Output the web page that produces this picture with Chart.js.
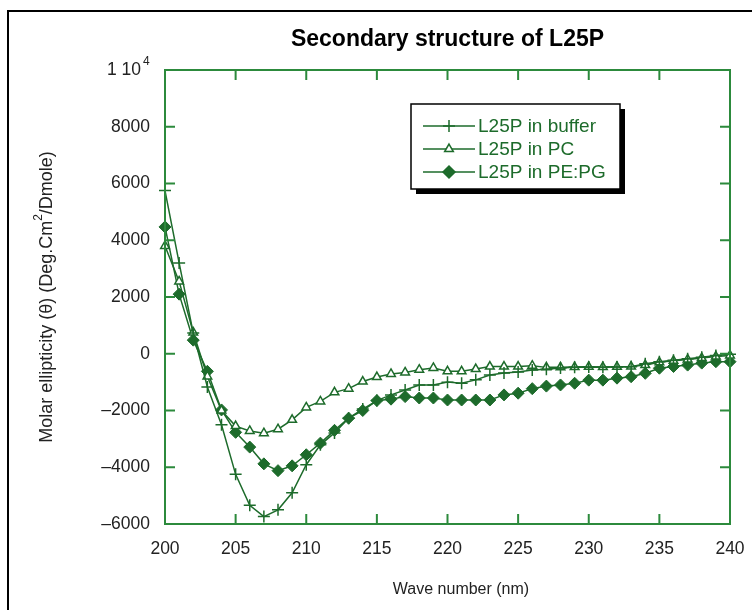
<!DOCTYPE html>
<html>
<head>
<meta charset="utf-8">
<script src="https://cdn.jsdelivr.net/npm/chart.js@4.4.1/dist/chart.umd.min.js"></script>
<style>
html,body{margin:0;padding:0;background:#fff;}
canvas{display:block;}
</style>
</head>
<body>
<canvas id="c" width="752" height="610"></canvas>
<script>
// ---- data ----
const wavelengths = [200,201,202,203,204,205,206,207,208,209,210,211,212,213,214,215,216,217,218,219,220,221,222,223,224,225,226,227,228,229,230,231,232,233,234,235,236,237,238,239,240];
const bufferVals = [5750,3200,730,-1170,-2500,-4250,-5340,-5740,-5500,-4900,-3910,-3210,-2790,-2270,-1950,-1650,-1450,-1280,-1100,-1100,-1000,-1040,-920,-750,-680,-640,-570,-550,-500,-480,-470,-480,-470,-460,-350,-280,-230,-180,-120,-60,-20];
const pcVals = [3800,2550,750,-800,-2000,-2550,-2720,-2800,-2660,-2330,-1890,-1680,-1360,-1230,-980,-820,-710,-660,-560,-500,-620,-620,-540,-450,-450,-450,-420,-480,-480,-470,-460,-470,-460,-450,-400,-300,-250,-200,-150,-100,-60];
const pepgVals = [4470,2100,480,-620,-1980,-2770,-3290,-3880,-4120,-3950,-3560,-3150,-2700,-2270,-2000,-1650,-1600,-1510,-1560,-1560,-1630,-1630,-1630,-1630,-1450,-1390,-1230,-1140,-1100,-1040,-930,-930,-860,-810,-690,-510,-450,-400,-330,-280,-280];
const seriesNames = ["L25P in buffer","L25P in PC","L25P in PE:PG"];
const xTicks = [200,205,210,215,220,225,230,235,240];
const yTicks = [-6000,-4000,-2000,0,2000,4000,6000,8000,10000];
const titleText = "Secondary structure of L25P";
const xTitle = "Wave number (nm)";

const LINE = '#1d6b2b';
const AXIS = '#2c8a3c';
const TXT = '#222';
const FONT = '"Liberation Sans", Arial, sans-serif';

const toXY = vals => wavelengths.map((w,i)=>({x:w,y:vals[i]}));

const decor = {
  id:'decor',
  afterDraw(chart){
    const ctx = chart.ctx;
    const xs = chart.scales.x, ys = chart.scales.y;
    const L = xs.getPixelForValue(200), R = xs.getPixelForValue(240);
    const T = ys.getPixelForValue(10000), B = ys.getPixelForValue(-6000);
    ctx.save();
    // outer frame
    ctx.strokeStyle='#000'; ctx.lineWidth=2;
    ctx.beginPath(); ctx.moveTo(8,610); ctx.lineTo(8,11); ctx.lineTo(752,11); ctx.stroke();
    // plot frame
    ctx.strokeStyle=AXIS; ctx.lineWidth=2;
    ctx.strokeRect(L,T,R-L,B-T);
    const tl=10;
    ctx.beginPath();
    xTicks.forEach(v=>{const px=xs.getPixelForValue(v);
      ctx.moveTo(px,B); ctx.lineTo(px,B-tl); ctx.moveTo(px,T); ctx.lineTo(px,T+tl);});
    yTicks.forEach(v=>{const py=ys.getPixelForValue(v);
      ctx.moveTo(L,py); ctx.lineTo(L+tl,py); ctx.moveTo(R,py); ctx.lineTo(R-tl,py);});
    ctx.stroke();
    // tick labels
    ctx.fillStyle=TXT; ctx.font='17.5px '+FONT;
    ctx.textAlign='center'; ctx.textBaseline='middle';
    xTicks.forEach(v=>ctx.fillText(String(v), xs.getPixelForValue(v), B+25));
    ctx.textAlign='right';
    yTicks.forEach(v=>{
      const py=ys.getPixelForValue(v);
      if(v===10000){
        ctx.font='12px '+FONT; ctx.textAlign='left';
        ctx.fillText('4', 143, py-8);
        ctx.font='17.5px '+FONT; ctx.textAlign='right';
        ctx.fillText('1 10', 141, py);
      } else ctx.fillText(String(v).replace('-','\u2013'), 150, py);
    });
    // title
    ctx.font='bold 23px '+FONT; ctx.textAlign='center'; ctx.fillStyle='#000';
    ctx.fillText(titleText, (L+R)/2, 40);
    // x title
    ctx.font='16px '+FONT; ctx.fillStyle=TXT;
    ctx.fillText(xTitle, 461, 590);
    // y title rotated
    ctx.save();
    ctx.translate(47,(T+B)/2); ctx.rotate(-Math.PI/2);
    const p1='Molar ellipticity (θ) (Deg.Cm', p2='2', p3='/Dmole)';
    const fs=18, fss=12;
    ctx.font=fs+'px '+FONT;
    const w1=ctx.measureText(p1).width, w3=ctx.measureText(p3).width;
    ctx.font=fss+'px '+FONT; const w2=ctx.measureText(p2).width;
    let sx=-(w1+w2+w3)/2;
    ctx.textAlign='left';
    ctx.font=fs+'px '+FONT; ctx.fillText(p1,sx,0); sx+=w1;
    ctx.font=fss+'px '+FONT; ctx.fillText(p2,sx,-8); sx+=w2;
    ctx.font=fs+'px '+FONT; ctx.fillText(p3,sx,0);
    ctx.restore();
    // legend
    const bx=411, by=104, bw=209, bh=85;
    ctx.fillStyle='#000'; ctx.fillRect(bx+5,by+5,bw,bh);
    ctx.fillStyle='#fff'; ctx.fillRect(bx,by,bw,bh);
    ctx.strokeStyle='#000'; ctx.lineWidth=1.5; ctx.strokeRect(bx,by,bw,bh);
    const rows=[126,149,172];
    chart.data.datasets.forEach((ds,i)=>{
      const y=rows[i];
      ctx.strokeStyle=LINE; ctx.lineWidth=1.5;
      ctx.beginPath(); ctx.moveTo(423,y); ctx.lineTo(475,y); ctx.stroke();
      ctx.fillStyle=ds.pointBackgroundColor; ctx.strokeStyle=LINE;
      Chart.helpers.drawPoint(ctx,{pointStyle:ds.pointStyle,radius:ds.pointRadius,borderWidth:1.5,rotation:0},449,y);
      ctx.fillStyle=LINE; ctx.font='19px '+FONT; ctx.textAlign='left';
      ctx.fillText(seriesNames[i],478,y+1);
    });
    ctx.restore();
  }
};

new Chart(document.getElementById('c'),{
  type:'line',
  data:{datasets:[
    {label:seriesNames[0],data:toXY(bufferVals),borderColor:LINE,borderWidth:1.5,pointStyle:'cross',pointRadius:6,pointBorderWidth:1.5,pointBorderColor:LINE,pointBackgroundColor:LINE,clip:false},
    {label:seriesNames[1],data:toXY(pcVals),borderColor:LINE,borderWidth:1.5,pointStyle:'triangle',pointRadius:5,pointBorderWidth:1.5,pointBorderColor:LINE,pointBackgroundColor:'#fff',clip:false},
    {label:seriesNames[2],data:toXY(pepgVals),borderColor:LINE,borderWidth:1.5,pointStyle:'rectRot',pointRadius:6,pointBorderWidth:1,pointBorderColor:LINE,pointBackgroundColor:LINE,clip:false}
  ]},
  options:{
    responsive:false, animation:false, devicePixelRatio:1,
    layout:{padding:{left:165,right:22,top:70,bottom:86}},
    plugins:{legend:{display:false},tooltip:{enabled:false},title:{display:false}},
    scales:{
      x:{type:'linear',min:200,max:240,display:false},
      y:{type:'linear',min:-6000,max:10000,display:false}
    }
  },
  plugins:[decor]
});
</script>
</body>
</html>
